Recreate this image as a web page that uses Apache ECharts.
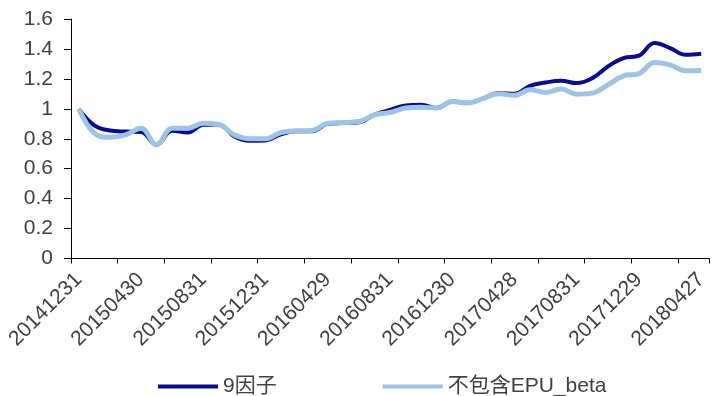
<!DOCTYPE html>
<html>
<head>
<meta charset="utf-8">
<script src="https://cdn.jsdelivr.net/npm/echarts@6/dist/echarts.min.js"></script>
<style>
html,body{margin:0;padding:0;background:#fff;}
#chart{width:717px;height:396px;}
</style>
</head>
<body>
<div id="chart"></div>
<script>
var categories = [
  '20141231','20150130','20150227','20150331','20150430','20150529','20150630','20150731',
  '20150831','20150930','20151030','20151130','20151231','20160129','20160229','20160331',
  '20160429','20160531','20160630','20160729','20160831','20160930','20161031','20161130',
  '20161230','20170126','20170228','20170331','20170428','20170531','20170630','20170731',
  '20170831','20170929','20171031','20171130','20171229','20180131','20180228','20180330',
  '20180427'
];
var factor9 = [
  1.00, 0.89, 0.855, 0.848, 0.845, 0.76, 0.853, 0.842, 0.893, 0.895,
  0.815, 0.786, 0.788, 0.83, 0.85, 0.85, 0.90, 0.905, 0.91, 0.96,
  0.993, 1.022, 1.027, 1.005, 1.049, 1.038, 1.07, 1.105, 1.10, 1.154,
  1.176, 1.187, 1.172, 1.205, 1.283, 1.339, 1.355, 1.44, 1.406, 1.361,
  1.368
];
var noEpuBeta = [
  1.00, 0.837, 0.81, 0.826, 0.87, 0.76, 0.87, 0.87, 0.904, 0.895,
  0.826, 0.80, 0.80, 0.842, 0.853, 0.855, 0.904, 0.908, 0.915, 0.96,
  0.975, 1.005, 1.011, 1.005, 1.049, 1.038, 1.07, 1.10, 1.09, 1.127,
  1.109, 1.132, 1.098, 1.105, 1.16, 1.22, 1.235, 1.31, 1.294, 1.254,
  1.256
];
var seriesNames = ['9因子', '不包含EPU_beta'];

var FONT = '"Liberation Sans", Arial, "Noto Sans CJK SC", sans-serif';
var TXT = '#404040';
var chart = echarts.init(document.getElementById('chart'), null, {renderer: 'canvas'});
chart.setOption({
  animation: false,
  backgroundColor: '#ffffff',
  grid: {left: 71, right: 8, top: 19, bottom: 137.5, containLabel: false},
  legend: {
    left: 153, top: 371,
    icon: 'rect', itemWidth: 60, itemHeight: 4, itemGap: 106,
    textStyle: {fontFamily: FONT, fontSize: 21, color: TXT},
    data: seriesNames
  },
  xAxis: {
    type: 'category',
    data: categories,
    boundaryGap: true,
    axisLine: {lineStyle: {color: '#000', width: 1}},
    axisTick: {show: true, interval: 2, length: 5, inside: false, lineStyle: {color: '#000'}},
    axisLabel: {interval: 3, rotate: 45, fontFamily: FONT, fontSize: 21, color: TXT, margin: 18}
  },
  yAxis: {
    type: 'value', min: 0, max: 1.6, interval: 0.2,
    axisLine: {show: true, lineStyle: {color: '#000', width: 1}},
    axisTick: {show: true, length: 7, lineStyle: {color: '#000'}},
    splitLine: {show: false},
    axisLabel: {fontFamily: FONT, fontSize: 21, color: TXT, margin: 18}
  },
  series: [
    {
      name: seriesNames[0], type: 'line', data: factor9, smooth: 0.4,
      symbol: 'none', color: '#0A0A96',
      lineStyle: {width: 4, color: '#0A0A96'}
    },
    {
      name: seriesNames[1], type: 'line', data: noEpuBeta, smooth: 0.4,
      symbol: 'none', color: '#9DC3E6',
      lineStyle: {width: 5, color: '#9DC3E6'}
    }
  ]
});
</script>
</body>
</html>
